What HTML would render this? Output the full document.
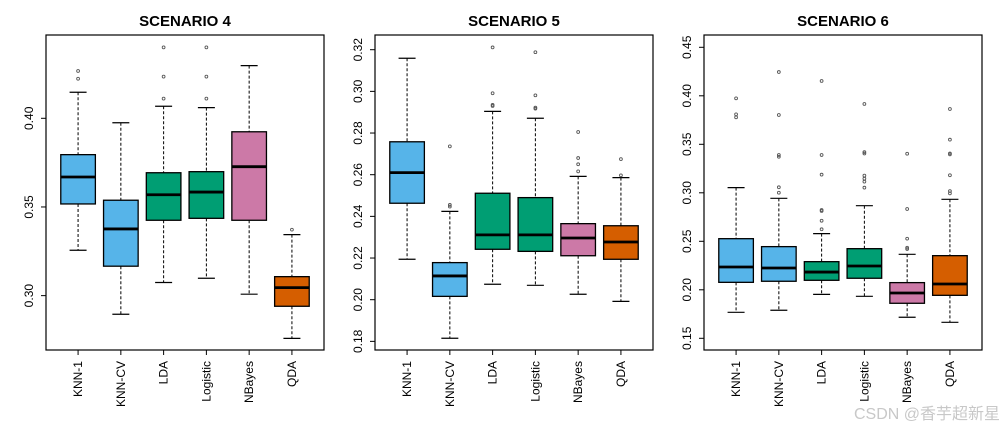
<!DOCTYPE html>
<html><head><meta charset="utf-8"><style>
body{margin:0;background:#fff;}
svg{display:block;font-family:"Liberation Sans",Arial,sans-serif;}
</style></head><body>
<svg id="chart" width="1003" height="433" viewBox="0 0 1003 433" xmlns="http://www.w3.org/2000/svg"></svg>
<script>
const categories = ["KNN-1","KNN-CV","LDA","Logistic","NBayes","QDA"];
const boxColors = ["#56B4E9","#56B4E9","#009E73","#009E73","#CC79A7","#D55E00"];
const titles = ["SCENARIO 4","SCENARIO 5","SCENARIO 6"];
// [whiskerLow, Q1, median, Q3, whiskerHigh] per category
const s4Stats = [[0.3256,0.3517,0.3669,0.3795,0.4147],[0.2895,0.3166,0.3376,0.3538,0.3975],[0.3074,0.3425,0.3569,0.3693,0.4068],[0.3098,0.3436,0.3584,0.3699,0.4060],[0.3008,0.3425,0.3727,0.3924,0.4297],[0.2759,0.2940,0.3045,0.3107,0.3344]];
const s4Outliers = [[0.4267,0.4223],[],[0.4400,0.4235,0.4111],[0.4400,0.4235,0.4111],[],[0.3372]];
const s4Ticks = [0.30,0.35,0.40];
const s5Stats = [[0.2194,0.2463,0.2610,0.2758,0.3159],[0.1815,0.2016,0.2114,0.2178,0.2424],[0.2074,0.2242,0.2311,0.2511,0.2904],[0.2069,0.2232,0.2311,0.2490,0.2871],[0.2026,0.2211,0.2296,0.2365,0.2592],[0.1992,0.2194,0.2277,0.2355,0.2586]];
const s5Outliers = [[],[0.2736,0.2455,0.2447],[0.3211,0.2991,0.2935,0.2930],[0.3188,0.2981,0.2922,0.2917],[0.2805,0.2680,0.2650,0.2616],[0.2675,0.2597]];
const s5Ticks = [0.18,0.20,0.22,0.24,0.26,0.28,0.30,0.32];
const s6Stats = [[0.1768,0.2077,0.2235,0.2527,0.3053],[0.1789,0.2088,0.2225,0.2445,0.2943],[0.1953,0.2098,0.2183,0.2290,0.2579],[0.1933,0.2119,0.2245,0.2424,0.2867],[0.1717,0.1861,0.1967,0.2074,0.2366],[0.1665,0.1943,0.2060,0.2352,0.2933]];
const s6Outliers = [[0.3974,0.3809,0.3778],[0.4245,0.3802,0.3390,0.3372,0.3057,0.3001],[0.4153,0.3390,0.3187,0.2823,0.2813,0.2712,0.2624],[0.3916,0.3420,0.3405,0.3177,0.3146,0.3115,0.3053],[0.3403,0.2833,0.2527,0.2434,0.2420],[0.3864,0.3548,0.3406,0.3396,0.3181,0.3018,0.2994]];
const s6Ticks = [0.15,0.20,0.25,0.30,0.35,0.40,0.45];

const panels = [
 {stats:s4Stats,out:s4Outliers,ticks:s4Ticks,x0:46,x1:324,refV:0.40,refY:118.3,scale:1773.3,fmt:2},
 {stats:s5Stats,out:s5Outliers,ticks:s5Ticks,x0:375,x1:653,refV:0.32,refY:49.7,scale:2083.3,fmt:2},
 {stats:s6Stats,out:s6Outliers,ticks:s6Ticks,x0:704,x1:982,refV:0.45,refY:47.3,scale:970,fmt:2}
];
const NS="http://www.w3.org/2000/svg";
const svg=document.getElementById('chart');
function mk(tag,attrs,parent){const e=document.createElementNS(NS,tag);for(const k in attrs)e.setAttribute(k,attrs[k]);(parent||svg).appendChild(e);return e;}
const Y0=35,Y1=350;
panels.forEach((p,pi)=>{
  const g=mk('g',{});
  
  
  const yS=v=>p.refY+(p.refV-v)*p.scale;
  const w=p.x1-p.x0, step=w/6.5;
  const xS=i=>p.x0+step*(0.75+i);
  const t=mk('text',{x:(p.x0+p.x1)/2,y:26,'text-anchor':'middle','font-size':15,'font-weight':'bold',fill:'#000'},g);
  t.textContent=titles[pi];
  
  
  const frame=mk('rect',{x:p.x0,y:Y0,width:w,height:Y1-Y0,fill:'none',stroke:'#000','stroke-width':1.2},g);
  
  
  p.ticks.forEach(v=>{
    const y=yS(v);
    mk('line',{x1:p.x0-5,x2:p.x0,y1:y,y2:y,stroke:'#000'},g);
    const lx=p.x0-13;
    const tl=mk('text',{x:lx,y:y,'text-anchor':'middle','font-size':12,fill:'#000',transform:`rotate(-90 ${lx} ${y})`},g);
    tl.textContent=v.toFixed(p.fmt);
    
    
  });
  categories.forEach((c,i)=>{
    const cx=xS(i), s=p.stats[i], hw=17.3;
    mk('line',{x1:cx,x2:cx,y1:Y1,y2:Y1+5,stroke:'#000'},g);
    const xl=mk('text',{x:cx+4,y:361,'text-anchor':'end','font-size':12,fill:'#000',transform:`rotate(-90 ${cx+4} 361)`},g);
    xl.textContent=c;
    
    
    const bg=mk('g',{},g);
    
    
    mk('line',{x1:cx,x2:cx,y1:yS(s[4]),y2:yS(s[3]),stroke:'#000','stroke-dasharray':'3,2'},bg);
    mk('line',{x1:cx,x2:cx,y1:yS(s[1]),y2:yS(s[0]),stroke:'#000','stroke-dasharray':'3,2'},bg);
    mk('line',{x1:cx-8.5,x2:cx+8.5,y1:yS(s[4]),y2:yS(s[4]),stroke:'#000','stroke-width':1.2},bg);
    mk('line',{x1:cx-8.5,x2:cx+8.5,y1:yS(s[0]),y2:yS(s[0]),stroke:'#000','stroke-width':1.2},bg);
    mk('rect',{x:cx-hw,y:yS(s[3]),width:hw*2,height:yS(s[1])-yS(s[3]),fill:boxColors[i],stroke:'#000','stroke-width':1.3},bg);
    mk('line',{x1:cx-hw,x2:cx+hw,y1:yS(s[2]),y2:yS(s[2]),stroke:'#000','stroke-width':2.8},bg);
    p.out[i].forEach(v=>{
      const o=mk('circle',{cx:cx,cy:yS(v),r:1.4,fill:'none',stroke:'#555','stroke-width':0.9},bg);
      
      
    });
  });
});
const wm=mk('text',{x:1000,y:419,'text-anchor':'end','font-size':16,fill:'#c8c8c8','font-family':'"Liberation Sans","Noto Sans CJK SC",sans-serif'});
wm.textContent='CSDN @香芋超新星';


</script>
</body></html>
